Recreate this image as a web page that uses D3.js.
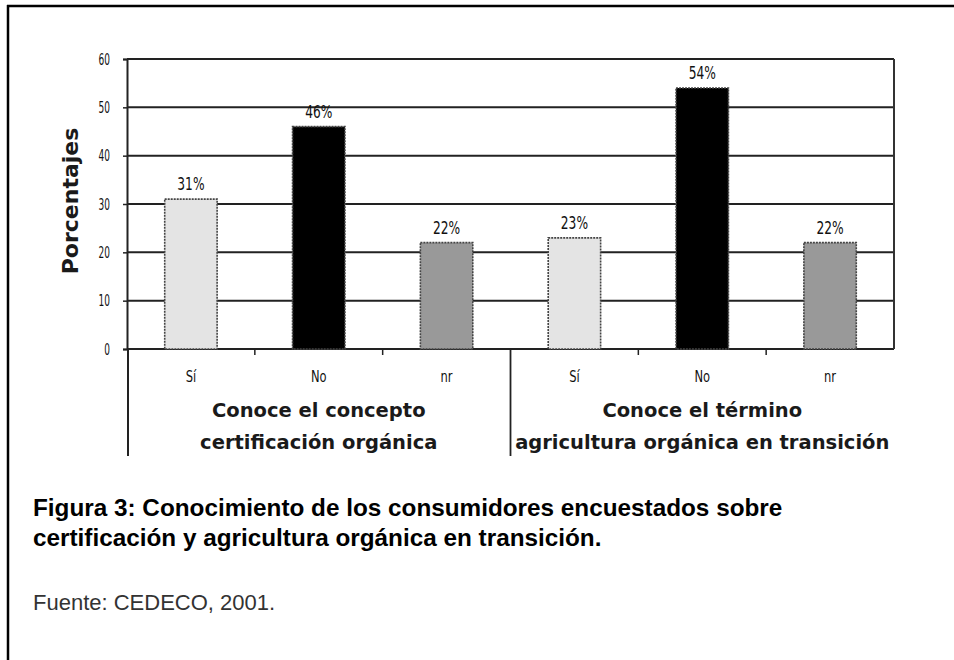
<!DOCTYPE html>
<html>
<head>
<meta charset="utf-8">
<script src="https://cdn.jsdelivr.net/npm/d3@7"></script>
<style>
  html, body { margin: 0; padding: 0; background: #fff; }
  svg { display: block; }
</style>
</head>
<body>
<svg id="chart" width="954" height="660"></svg>
<script>
// Survey answers, two questions with three answers each
const groups = ["Conoce el concepto|certificación orgánica", "Conoce el término|agricultura orgánica en transición"];
const answers = ["Sí", "No", "nr"];
const valuesConcepto = [31, 46, 22];
const valuesTermino = [23, 54, 22];
const yTicks = [0, 10, 20, 30, 40, 50, 60];
const caption = ["Figura 3: Conocimiento de los consumidores encuestados sobre",
                 "certificación y agricultura orgánica en transición."];
const source = "Fuente: CEDECO, 2001.";

const answerFill = { "Sí": "#e4e4e4", "No": "#000000", "nr": "#999999" };

const rows = [];
[valuesConcepto, valuesTermino].forEach((vals, gi) => {
  vals.forEach((v, ai) => rows.push({ group: gi, answer: answers[ai], value: v, key: gi + "-" + answers[ai] }));
});

const svg = d3.select("#chart");
const plot = { left: 127, right: 894, top: 59, bottom: 349 };

// Outer frame: top and left rules
svg.append("line").attr("x1", 7).attr("x2", 954).attr("y1", 6).attr("y2", 6)
  .attr("stroke", "#000").attr("stroke-width", 2.5);
svg.append("line").attr("x1", 8).attr("x2", 8).attr("y1", 5).attr("y2", 660)
  .attr("stroke", "#000").attr("stroke-width", 2.5);

const x = d3.scaleBand().domain(rows.map(d => d.key)).range([plot.left, plot.right]).paddingInner(0.59).paddingOuter(0.295);
const xOuter = d3.scaleBand().domain(rows.map(d => d.key)).range([plot.left, plot.right]);
const y = d3.scaleLinear().domain([0, 60]).range([plot.bottom, plot.top]);

// Horizontal gridlines
svg.append("g").selectAll("line").data(yTicks).join("line")
  .attr("x1", plot.left).attr("x2", plot.right)
  .attr("y1", d => y(d)).attr("y2", d => y(d))
  .attr("stroke", "#222").attr("stroke-width", 2);

// Right border of plot area
svg.append("line").attr("x1", plot.right).attr("x2", plot.right)
  .attr("y1", plot.top).attr("y2", plot.bottom)
  .attr("stroke", "#333").attr("stroke-width", 2);

// Y axis
const yAxis = d3.axisLeft(y).tickValues(yTicks).tickSize(4).tickPadding(12);
const gy = svg.append("g").attr("transform", `translate(${plot.left},0)`).call(yAxis);
gy.select(".domain").attr("stroke", "#222").attr("stroke-width", 2);
gy.selectAll(".tick line").attr("stroke", "#222").attr("stroke-width", 1.5);
gy.selectAll(".tick text")
  .attr("font-family", "DejaVu Sans, sans-serif").attr("font-size", 15).attr("fill", "#111")
  .attr("x", null).attr("dy", null)
  .attr("transform", "translate(-17,5) scale(0.6,1)")
  .attr("text-anchor", "end");

// Left axis continues down past the category labels
svg.append("line").attr("x1", plot.left + 1).attr("x2", plot.left + 1)
  .attr("y1", plot.bottom).attr("y2", 456)
  .attr("stroke", "#222").attr("stroke-width", 2);

// Bars
svg.append("g").selectAll("rect").data(rows).join("rect")
  .attr("x", d => x(d.key)).attr("width", x.bandwidth())
  .attr("y", d => y(d.value)).attr("height", d => y(0) - y(d.value))
  .attr("fill", d => answerFill[d.answer])
  .attr("stroke", "#444").attr("stroke-width", 1.6).attr("stroke-dasharray", "2,1");

// Value labels
svg.append("g").selectAll("text").data(rows).join("text")
  .attr("transform", d => `translate(${x(d.key) + x.bandwidth() / 2},${y(d.value) - 9}) scale(0.72,1)`)
  .attr("text-anchor", "middle")
  .attr("font-family", "DejaVu Sans, sans-serif").attr("font-size", 17).attr("fill", "#111")
  .text(d => d.value + "%");

// Category boundary ticks below the baseline
const boundaries = rows.slice(1).map(d => ({ x: xOuter(d.key), sep: d.answer === "Sí" }));
svg.append("g").selectAll("line").data(boundaries).join("line")
  .attr("x1", d => d.x).attr("x2", d => d.x)
  .attr("y1", plot.bottom).attr("y2", d => d.sep ? 456 : plot.bottom + 6)
  .attr("stroke", "#222").attr("stroke-width", d => d.sep ? 1.8 : 1.5);

// Answer labels
svg.append("g").selectAll("text").data(rows).join("text")
  .attr("transform", d => `translate(${xOuter(d.key) + xOuter.bandwidth() / 2},382) scale(0.72,1)`)
  .attr("text-anchor", "middle")
  .attr("font-family", "DejaVu Sans, sans-serif").attr("font-size", 16).attr("fill", "#111")
  .text(d => d.answer);

// Group labels
const groupCenters = groups.map((g, gi) => {
  const keys = rows.filter(r => r.group === gi).map(r => r.key);
  return (xOuter(keys[0]) + xOuter(keys[keys.length - 1]) + xOuter.bandwidth()) / 2;
});
groups.forEach((g, gi) => {
  g.split("|").forEach((line, li) => {
    svg.append("text")
      .attr("x", groupCenters[gi]).attr("y", 417 + li * 32)
      .attr("text-anchor", "middle")
      .attr("font-family", "DejaVu Sans, sans-serif").attr("font-weight", "bold")
      .attr("font-size", 19.5).attr("fill", "#1a1a1a")
      .text(line);
  });
});

// Y axis title
svg.append("text")
  .attr("transform", `translate(78,201) rotate(-90)`)
  .attr("text-anchor", "middle")
  .attr("font-family", "DejaVu Sans, sans-serif").attr("font-weight", "bold")
  .attr("font-size", 22).attr("fill", "#1a1a1a")
  .text("Porcentajes");

// Caption
caption.forEach((line, i) => {
  svg.append("text")
    .attr("x", 33).attr("y", 516 + i * 30)
    .attr("font-family", "Liberation Sans, Arial, sans-serif").attr("font-weight", "bold")
    .attr("font-size", 24.3).attr("fill", "#000")
    .text(line);
});
svg.append("text")
  .attr("x", 33).attr("y", 610)
  .attr("font-family", "Liberation Sans, Arial, sans-serif")
  .attr("font-size", 22).attr("fill", "#333")
  .text(source);
</script>
</body>
</html>
